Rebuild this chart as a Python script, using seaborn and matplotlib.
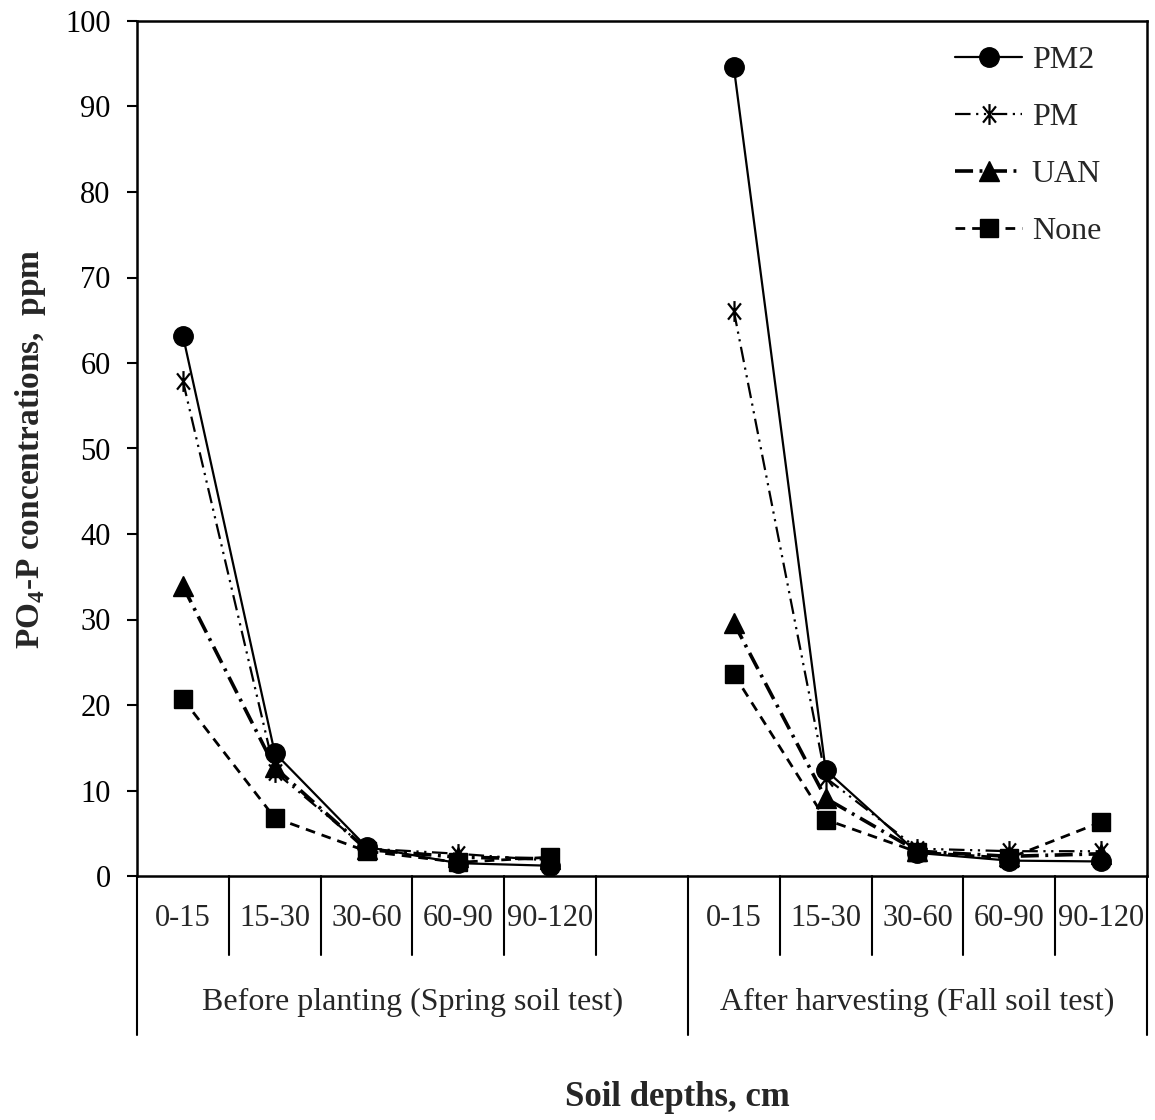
import numpy as np
import pandas as pd
import matplotlib
matplotlib.use("Agg")
import matplotlib.pyplot as plt
from matplotlib.path import Path
import seaborn as sns

# ---------------- data ----------------
depths = ["0-15", "15-30", "30-60", "60-90", "90-120"]
seasons = ["Before planting (Spring soil test)", "After harvesting (Fall soil test)"]
treatments = ["PM2", "PM", "UAN", "None"]

spring_pm2 = [63.2, 14.4, 3.4, 1.5, 1.2]
spring_pm = [57.9, 12.2, 3.2, 2.6, 1.8]
spring_uan = [33.9, 12.7, 3.1, 2.2, 2.0]
spring_none = [20.7, 6.8, 2.9, 1.6, 2.2]

fall_pm2 = [94.6, 12.4, 2.7, 1.8, 1.7]
fall_pm = [66.1, 11.5, 3.2, 2.9, 2.9]
fall_uan = [29.6, 9.1, 2.9, 2.3, 2.6]
fall_none = [23.6, 6.6, 2.8, 2.1, 6.3]

spring_vals = {"PM2": spring_pm2, "PM": spring_pm, "UAN": spring_uan, "None": spring_none}
fall_vals = {"PM2": fall_pm2, "PM": fall_pm, "UAN": fall_uan, "None": fall_none}

# slot positions: spring 0..4, blank slot 5, fall 6..10
rows = []
for si, (season, vals) in enumerate(zip(seasons, [spring_vals, fall_vals])):
    offset = 0 if si == 0 else 6
    for t in treatments:
        for di, d in enumerate(depths):
            rows.append({"Season": season, "Treatment": t, "Depth": d,
                         "pos": offset + di, "ppm": vals[t][di]})
df = pd.DataFrame(rows)

# ---------------- style ----------------
sns.set_style("ticks")
plt.rcParams["font.family"] = ["Liberation Serif", "DejaVu Serif"]
plt.rcParams["mathtext.fontset"] = "custom"
plt.rcParams["mathtext.rm"] = "Liberation Serif"
plt.rcParams["mathtext.bf"] = "Liberation Serif:bold"
plt.rcParams["axes.edgecolor"] = "black"

FS = 22
FS_GROUP = 23
FS_LAB = 24

asterisk = Path([(0, -1), (0, 1), (-0.62, -0.78), (0.62, 0.78), (-0.62, 0.78), (0.62, -0.78)],
                [Path.MOVETO, Path.LINETO, Path.MOVETO, Path.LINETO, Path.MOVETO, Path.LINETO])

styles = {
    "PM2": dict(marker="o", linestyle="-", linewidth=1.6, markersize=14),
    "PM": dict(marker=asterisk, linestyle=(0, (7, 2.5, 1, 2.5, 1, 2.5)), linewidth=1.6, markersize=15,
               markeredgewidth=1.6),
    "UAN": dict(marker="^", linestyle=(0, (5, 1.8, 0.8, 1.8)), linewidth=2.6, markersize=14),
    "None": dict(marker="s", linestyle=(0, (3.5, 2.5)), linewidth=2.0, markersize=13),
}

fig = plt.figure(figsize=(11.55, 11.2), dpi=100)
ax = fig.add_axes([137 / 1155, 1 - 876 / 1120, (1147 - 137) / 1155, (876 - 21) / 1120])

handles = []
for t in treatments:
    sub = df[df["Treatment"] == t]
    n_before = len(ax.lines)
    kw = dict(styles[t])
    kw.setdefault("markeredgewidth", 1.0)
    sns.lineplot(data=sub, x="pos", y="ppm", units="Season", estimator=None,
                 color="black", markeredgecolor="black", markerfacecolor="black",
                 ax=ax, legend=False, sort=True, **kw)
    handles.append(ax.lines[n_before])

ax.set_xlim(-0.5, 10.5)
ax.set_ylim(0, 100)
ax.set_yticks(np.arange(0, 101, 10))
ax.tick_params(axis="y", direction="out", length=7, width=1.5, labelsize=FS, pad=12, colors="black")

tick_pos = list(range(5)) + [5] + list(range(6, 11))
tick_lab = depths + [""] + depths
ax.set_xticks(tick_pos)
ax.set_xticklabels(tick_lab)
ax.tick_params(axis="x", length=0, labelsize=FS, pad=(918 - 876) * 0.72)
for lab in ax.get_xticklabels():
    lab.set_va("center")

for s in ax.spines.values():
    s.set_linewidth(1.8)
    s.set_color("black")

# category separators below axis
ypx = 855.0
short_end = -(955 - 876) / ypx
long_end = -(1035 - 876) / ypx
trans = ax.get_xaxis_transform()
for b in np.arange(-0.5, 11, 1.0):
    end = long_end if b in (-0.5, 5.5, 10.5) else short_end
    ax.plot([b, b], [0, end], transform=trans, color="black", lw=1.5, clip_on=False)

# group labels
ax.text(2.5, -(1002 - 876) / ypx, seasons[0], transform=trans, ha="center", va="center", fontsize=FS_GROUP)
ax.text(8.0, -(1002 - 876) / ypx, seasons[1], transform=trans, ha="center", va="center", fontsize=FS_GROUP)

ax.set_xlabel("Soil depths, cm", fontsize=FS_LAB + 1, fontweight="bold", va="center")
ax.xaxis.set_label_coords((677 - 137) / 1010, -(1097 - 876) / ypx)
ax.set_ylabel(r"PO$_\mathbf{4}$-P concentrations,  ppm", fontsize=FS_LAB, fontweight="bold", va="center")
ax.yaxis.set_label_coords((31 - 137) / 1010, 0.5)

ax.legend(handles, treatments, loc="upper left", bbox_to_anchor=((955 - 137) / 1010, (876 - 46) / ypx),
          frameon=False, fontsize=FS_GROUP, handlelength=2.1, handletextpad=0.3, labelspacing=0.86,
          borderpad=0, borderaxespad=0)

fig.savefig("out.png", dpi=100)
